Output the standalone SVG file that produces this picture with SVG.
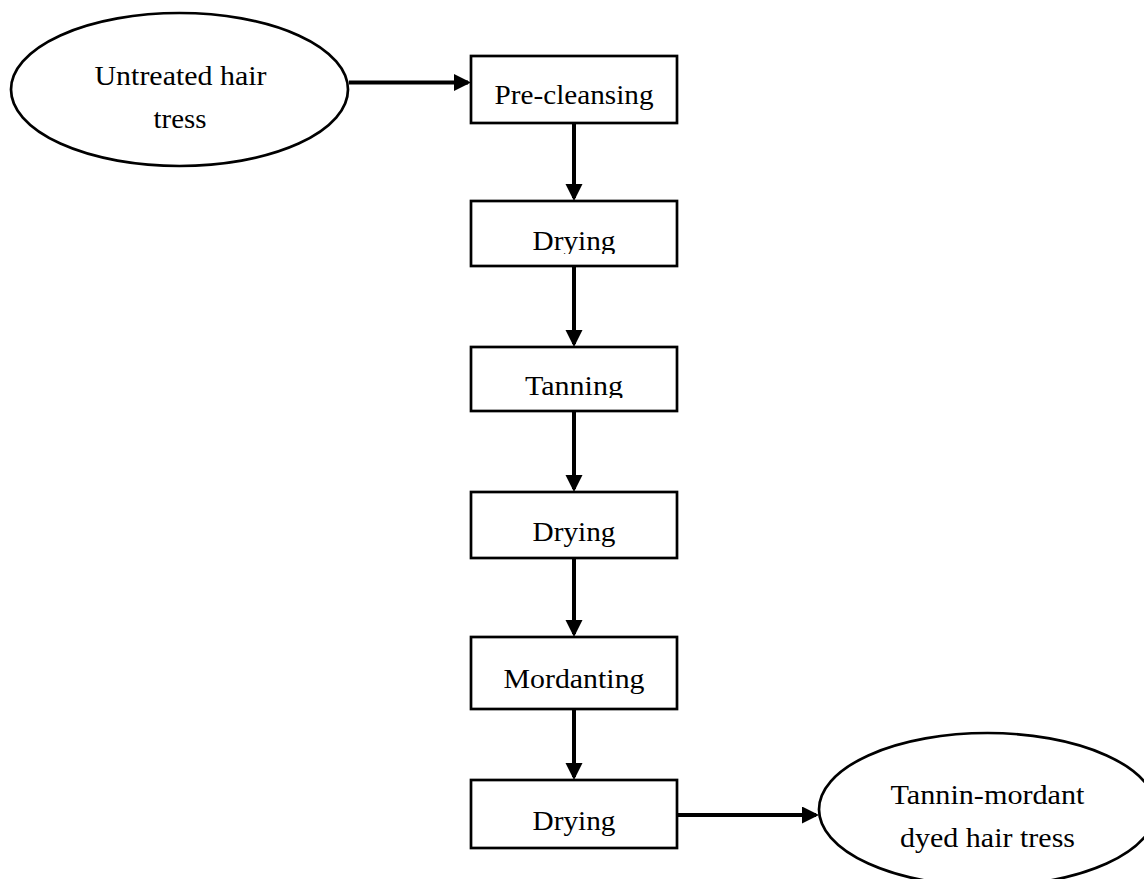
<svg xmlns="http://www.w3.org/2000/svg" width="1144" height="879" viewBox="0 0 1144 879">
  <style>
    .shape { fill: #ffffff; stroke: #000000; stroke-width: 2.7; }
    .lbl { font-family: "Liberation Serif", "Times New Roman", serif; font-size: 28px; fill: #000000; text-anchor: middle; }
    .conn { stroke: #000000; stroke-width: 4; fill: none; marker-end: url(#arrow); }
  </style>
  <defs>
    <marker id="arrow" markerUnits="userSpaceOnUse" markerWidth="18" markerHeight="18" refX="14" refY="8.5" orient="auto">
      <path d="M0,0 L17,8.5 L0,17 Z" fill="#000000"/>
    </marker>
    <clipPath id="clipDry1"><rect x="471" y="201" width="206" height="53"/></clipPath>
    <clipPath id="clipTan"><rect x="471" y="347" width="206" height="51"/></clipPath>
  </defs>
  <rect width="1144" height="879" fill="#ffffff"/>

  <g id="connectors">
    <line class="conn" x1="349" y1="82.5" x2="468" y2="82.5"/>
    <line class="conn" x1="574" y1="123" x2="574" y2="198"/>
    <line class="conn" x1="574" y1="266" x2="574" y2="344"/>
    <line class="conn" x1="574" y1="411" x2="574" y2="489"/>
    <line class="conn" x1="574" y1="558" x2="574" y2="634"/>
    <line class="conn" x1="574" y1="709" x2="574" y2="777"/>
    <line class="conn" x1="677" y1="815" x2="816" y2="815"/>
  </g>

  <g id="node-untreated">
    <ellipse class="shape" cx="179.5" cy="89.5" rx="168.5" ry="76.5"/>
    <text class="lbl" x="180.5" y="85" textLength="172" lengthAdjust="spacingAndGlyphs">Untreated hair</text>
    <text class="lbl" x="180" y="128" textLength="53" lengthAdjust="spacingAndGlyphs">tress</text>
  </g>

  <g id="node-precleansing">
    <rect class="shape" x="471" y="56" width="206" height="67"/>
    <text class="lbl" x="574" y="104" textLength="159" lengthAdjust="spacingAndGlyphs">Pre-cleansing</text>
  </g>

  <g id="node-drying1">
    <rect class="shape" x="471" y="201" width="206" height="65"/>
    <text class="lbl" x="574" y="250" textLength="83" lengthAdjust="spacingAndGlyphs" clip-path="url(#clipDry1)">Drying</text>
  </g>

  <g id="node-tanning">
    <rect class="shape" x="471" y="347" width="206" height="64"/>
    <text class="lbl" x="574" y="395" textLength="98" lengthAdjust="spacingAndGlyphs" clip-path="url(#clipTan)">Tanning</text>
  </g>

  <g id="node-drying2">
    <rect class="shape" x="471" y="492" width="206" height="66"/>
    <text class="lbl" x="574" y="541" textLength="83" lengthAdjust="spacingAndGlyphs">Drying</text>
  </g>

  <g id="node-mordanting">
    <rect class="shape" x="471" y="637" width="206" height="72"/>
    <text class="lbl" x="574" y="688" textLength="141" lengthAdjust="spacingAndGlyphs">Mordanting</text>
  </g>

  <g id="node-drying3">
    <rect class="shape" x="471" y="780" width="206" height="68"/>
    <text class="lbl" x="574" y="830" textLength="83" lengthAdjust="spacingAndGlyphs">Drying</text>
  </g>

  <g id="node-dyed">
    <ellipse class="shape" cx="987.5" cy="809.5" rx="168.5" ry="76.5"/>
    <text class="lbl" x="987.5" y="804" textLength="194" lengthAdjust="spacingAndGlyphs">Tannin-mordant</text>
    <text class="lbl" x="987.5" y="847" textLength="175" lengthAdjust="spacingAndGlyphs">dyed hair tress</text>
  </g>
</svg>
